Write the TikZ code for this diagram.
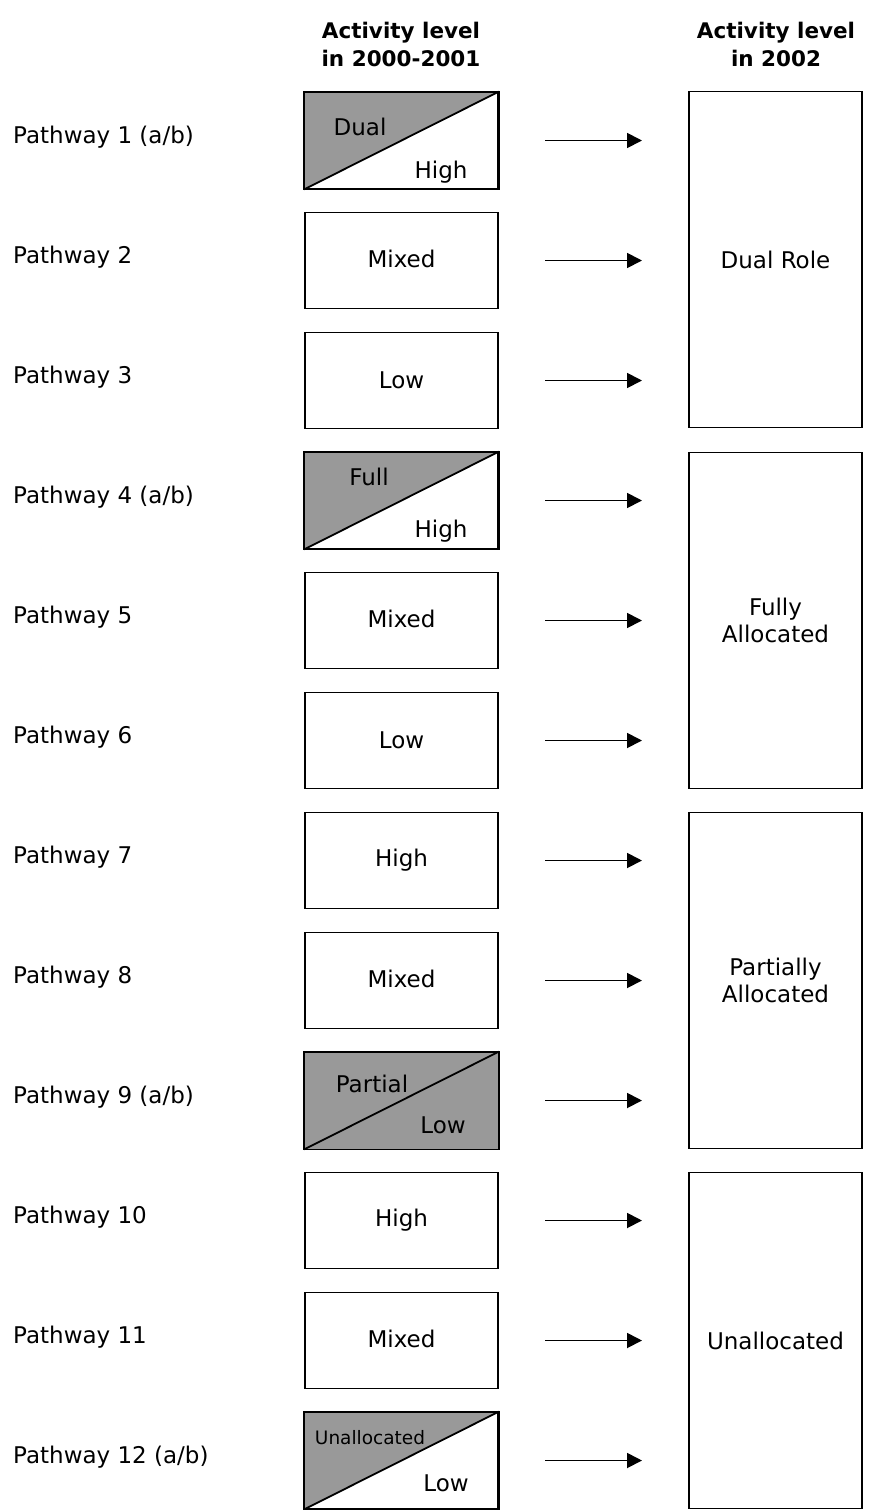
\documentclass[tikz,border=0pt]{standalone}
\usepackage{fontspec}
\setmainfont{DejaVu Sans}
\usetikzlibrary{arrows.meta}
\definecolor{boxgray}{HTML}{999999}
\tikzset{
  lbl/.style={anchor=west, font=\fontsize{23}{26}\selectfont, inner sep=0pt},
  hdr/.style={align=center, font=\bfseries\fontsize{21.5}{28}\selectfont, inner sep=0pt},
  lbox/.style={draw, line width=1.8pt, minimum width=193pt, minimum height=96pt, inner sep=0pt, font=\fontsize{23}{26}\selectfont},
  rbox/.style={draw, line width=1.8pt, minimum width=173pt, minimum height=336pt, inner sep=0pt, align=center, font=\fontsize{23}{27}\selectfont},
  txt/.style={inner sep=0pt, font=\fontsize{23}{26}\selectfont},
  arr/.style={line width=1.8pt, -{Triangle[length=15pt, width=15pt]}},
}
\begin{document}
\begin{tikzpicture}[x=1pt, y=-1pt]
\useasboundingbox (0,0) rectangle (885,1510);
\fill[white] (0,0) rectangle (885,1510);
% headers
\node[hdr] (h1) at (401,44) {Activity level\\in 2000-2001};
\node[hdr] (h2) at (776,44) {Activity level\\in 2002};
% pathway labels
\foreach \i/\t in {1/{Pathway 1 (a/b)},2/{Pathway 2},3/{Pathway 3},4/{Pathway 4 (a/b)},5/{Pathway 5},6/{Pathway 6},7/{Pathway 7},8/{Pathway 8},9/{Pathway 9 (a/b)},10/{Pathway 10},11/{Pathway 11},12/{Pathway 12 (a/b)}}{
  \node[lbl] (p\i) at (13,{140+120*(\i-1)-3}) {\t};
}
% left boxes
\foreach \i in {1,...,12}{
  \node[lbox] (b\i) at (401.5,{140.5+120*(\i-1)}) {};
}
% diagonal boxes
\foreach \i in {1,4,12}{
  \fill[boxgray] (b\i.south west) -- (b\i.north east) -- (b\i.north west) -- cycle;
}
\fill[boxgray] (b9.south west) rectangle (b9.north east);
\foreach \i in {1,4,9,12}{
  \draw[line width=1.8pt] (b\i.south west) -- (b\i.north east);
  \draw[line width=1.8pt] (b\i.south west) rectangle (b\i.north east);
}
% texts in left boxes
\node[txt] (t1a) at (360,127) {Dual};
\begin{scope}
\clip (b1.south west) rectangle (b1.north east);
\node[txt] (t1b) at (441,172) {High};
\end{scope}
\node[txt] at ([yshift=2pt]b2.center) {Mixed};
\node[txt] at (b3) {Low};
\node[txt] (t4a) at (369,477) {Full};
\begin{scope}
\clip (b4.south west) rectangle (b4.north east);
\node[txt] (t4b) at (441,531) {High};
\end{scope}
\node[txt] at ([yshift=2pt]b5.center) {Mixed};
\node[txt] at (b6) {Low};
\node[txt] at (b7) {High};
\node[txt] at ([yshift=2pt]b8.center) {Mixed};
\node[txt] (t9a) at (372,1084) {Partial};
\node[txt] (t9b) at (443,1125) {Low};
\node[txt] at (b10) {High};
\node[txt] at ([yshift=2pt]b11.center) {Mixed};
\node[txt, font=\fontsize{18.5}{20}\selectfont] (t12a) at (370,1438) {Unallocated};
\node[txt] (t12b) at (446,1483) {Low};
% right boxes
\node[rbox] (r1) at (775.5,259.5) {Dual Role};
\node[rbox] (r2) at (775.5,620.5) {Fully\\Allocated};
\node[rbox] (r3) at (775.5,980.5) {Partially\\Allocated};
\node[rbox] (r4) at (775.5,1340.5) {Unallocated};
% arrows
\foreach \i in {1,...,12}{
  \coordinate (s\i) at (545,{140.5+120*(\i-1)});
  \coordinate (e\i) at (642,{140.5+120*(\i-1)});
  \draw[arr] (s\i) -- (e\i);
}
\end{tikzpicture}
\end{document}
